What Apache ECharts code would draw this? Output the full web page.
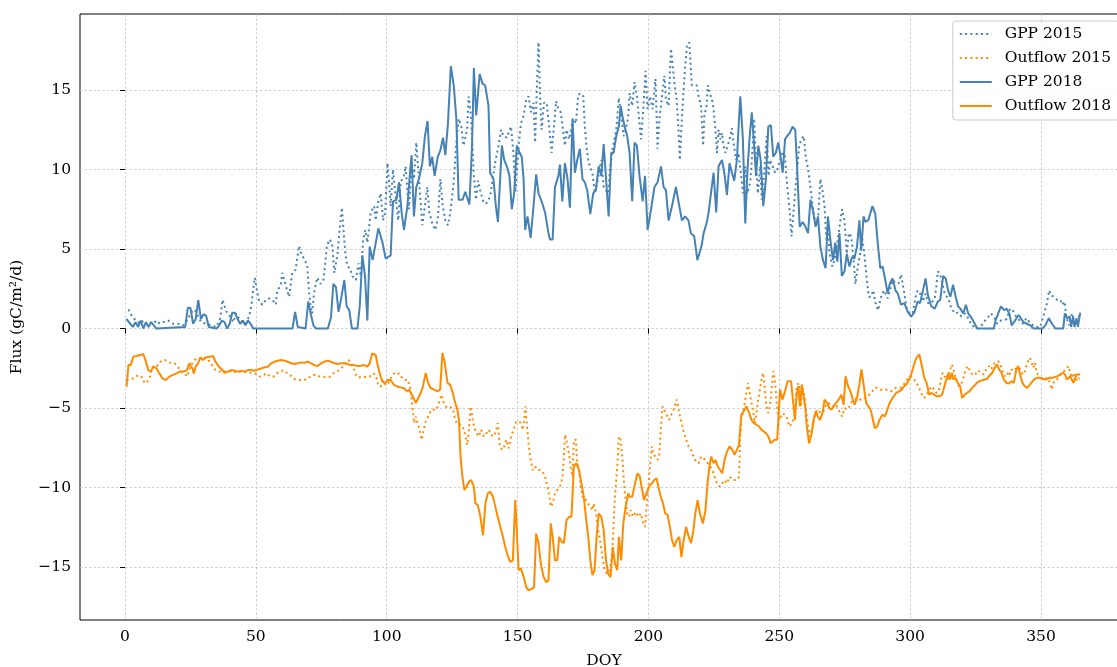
<!DOCTYPE html>
<html>
<head>
<meta charset="utf-8">
<script src="https://cdn.jsdelivr.net/npm/echarts@6.0.0/dist/echarts.min.js"></script>
<style>
html,body{margin:0;padding:0;background:#fff;}
#chart{width:1117px;height:667px;}
</style>
</head>
<body>
<div id="chart"></div>
<script>
// ---------- DATA (DOY, flux) ----------
const seriesNames = ['GPP 2015', 'Outflow 2015', 'GPP 2018', 'Outflow 2018'];
const xTicks = [0, 50, 100, 150, 200, 250, 300, 350];
const yTicks = [-15, -10, -5, 0, 5, 10, 15];

const gpp2015 = [[1.3,1.2],[2.9,0.7],[4.4,0.5],[5.7,0.3],[7,0.5],[8.2,0.3],[9.5,0.4],[10.8,0.3],[12,0.5],[13.3,0.3],[14.6,0.4],[16.5,0.5],[18.4,0.3],[20.3,0.3],[22.2,0.2],[23.7,0.5],[25.3,1.0],[26.6,1.2],[27.8,0.8],[29.1,0.4],[31,0.3],[32.9,0.2],[34.8,0.1],[36.3,0.6],[37.3,1.8],[38.4,1.2],[39.2,0.95],[40.5,0.7],[41.4,0.4],[42.4,0.95],[43.7,0.6],[44.9,0.4],[46.2,0.3],[47.5,0.8],[48.4,1.6],[49.1,2.6],[49.6,3.2],[50.4,2.4],[51.3,1.7],[52.5,1.5],[53.8,1.8],[55.1,1.9],[56.3,1.8],[57.6,1.5],[58.2,2.4],[59.5,2.7],[60.1,3.5],[60.8,3.1],[61.6,2.6],[62.7,2.0],[63.9,3.5],[65.2,3.7],[65.8,4.4],[66.5,5.2],[67.3,4.7],[68.4,4.4],[69.6,4.0],[70.3,2.4],[70.9,1.4],[71.5,0.95],[72.2,2.2],[73.4,3.2],[74.7,2.8],[75.9,3.1],[77.1,5.15],[78.1,5.6],[79.1,5.4],[80,3.5],[81.2,4.7],[82.1,6.4],[82.9,7.6],[83.4,6.4],[84.2,4.7],[85,3.9],[85.9,3.8],[86.9,3.3],[88.2,3.05],[89.2,4.1],[90.1,3.3],[91,5.6],[91.8,6.2],[92.6,5.4],[93.9,7.3],[95.2,7.7],[95.8,6.8],[96.8,8.0],[97.7,8.5],[98.6,6.8],[99.4,7.3],[100.3,10.4],[100.9,9.2],[101.5,7.7],[102.4,10.0],[103.4,8.3],[104.4,6.8],[105.3,9.2],[106.6,9.6],[107.2,10.2],[107.9,8.7],[108.5,7.5],[109.5,10.2],[110.4,9.4],[111.3,11.7],[112.3,9.4],[113.6,6.5],[114.6,7.7],[115.5,8.9],[116.3,7.3],[117.4,6.6],[118.6,6.2],[119.6,7.05],[120.5,9.4],[121.4,7.7],[122.4,6.8],[123.4,6.5],[124.3,7.3],[125.6,9.2],[126.5,11.5],[127.5,13.2],[128.5,12.7],[129.4,11.5],[130.7,12.5],[131.3,14.6],[132.3,13.2],[133.2,9.8],[134.1,8.1],[134.9,9.3],[135.7,8.7],[137,7.9],[138.3,7.9],[139.5,8.3],[141.4,10.4],[142.7,11.5],[143.7,12.5],[144.6,12.1],[145.9,12.0],[146.5,12.3],[147.5,12.7],[148.4,11.05],[149.2,8.6],[150.4,11.5],[151.3,12.9],[152.3,13.4],[153.3,14.4],[154.2,14.6],[155.1,13.6],[156.1,14.2],[156.7,11.7],[157.3,14.8],[158,18.0],[158.6,14.6],[159.2,12.5],[160.1,14.2],[161.1,14.2],[162.2,12.5],[163,11.05],[163.9,12.7],[164.7,14.3],[165.6,13.8],[166.5,13.6],[167.2,12.7],[168.1,11.5],[168.7,12.5],[169.7,11.9],[170.6,12.7],[171.3,13.2],[172.3,12.9],[173.2,14.7],[174.1,14.8],[175.1,14.6],[175.7,12.7],[176.3,11.5],[177,10.6],[177.6,10.2],[178.6,9.8],[179.5,8.5],[180.1,8.9],[181.1,9.8],[182,10.6],[182.9,8.9],[183.7,8.7],[184.6,8.5],[185.4,10.2],[186.5,11.5],[187.7,12.5],[188.7,14.5],[189.6,13.4],[190.5,12.1],[191.3,12.5],[192.2,13.2],[192.8,14.8],[193.8,14.0],[194.7,15.5],[195.6,14.6],[196.3,13.4],[197.2,11.9],[198.1,14.0],[198.9,16.2],[199.7,13.8],[200.6,14.6],[201.6,13.8],[202.7,15.7],[203.5,11.3],[204.2,13.2],[205.2,14.6],[206.1,15.9],[206.7,14.4],[207.7,14.0],[208.6,17.6],[209.2,16.7],[209.9,15.5],[210.8,14.4],[211.5,12.5],[212,10.6],[212.8,13.2],[213.7,15.7],[214.7,17.8],[215.6,18.0],[216.6,15.3],[217.3,15.3],[218.4,15.3],[219.2,14.6],[220.1,14.0],[220.9,11.5],[221.4,13.4],[222.2,14.0],[222.7,15.3],[223.4,14.8],[224.3,14.4],[224.9,13.8],[225.6,12.5],[226.2,11.05],[226.8,12.5],[227.5,11.9],[228.1,12.3],[228.7,11.5],[229.4,11.05],[230.3,11.5],[231,11.9],[231.9,12.6],[232.5,11.7],[233.5,10.6],[234.4,11.05],[235.3,9.8],[236.1,8.5],[237,10.2],[237.8,8.5],[238.9,9.2],[239.5,10.6],[240.4,13.2],[241.1,10.6],[241.8,8.5],[242.7,10.2],[243.3,8.1],[244.2,9.8],[245.2,12.1],[245.9,9.6],[246.5,10.6],[247.5,10.2],[248.4,9.8],[249.2,10.0],[250.3,10.6],[251.3,11.05],[252.2,10.8],[252.8,9.4],[253.8,7.7],[254.7,5.8],[255.6,7.7],[256.6,9.6],[257.6,11.5],[258.5,11.9],[259.4,12.1],[260.1,10.8],[261,10.0],[261.9,8.9],[262.9,7.5],[263.9,6.4],[264.8,6.8],[265.7,9.4],[266.5,8.7],[267.3,7.7],[268,5.6],[268.6,6.4],[269.2,4.7],[270.3,3.9],[271.1,4.3],[272,5.15],[273,6.4],[274,7.5],[274.9,6.8],[275.8,4.7],[276.6,6.0],[277.5,5.8],[278.4,4.3],[279.1,2.8],[280,3.9],[280.9,4.7],[281.6,5.8],[282.5,4.7],[283.2,3.5],[284.2,2.0],[285.1,2.0],[285.9,2.4],[286.9,1.5],[287.8,1.15],[288.7,1.9],[290,2.4],[291.4,1.9],[292.3,2.4],[293.3,3.05],[294.6,2.85],[295.6,2.85],[296.5,3.4],[297.2,2.75],[297.8,2.2],[298.7,1.25],[299.7,0.95],[301,1.0],[302.1,2.0],[302.9,2.4],[303.8,2.2],[304.9,1.7],[305.9,2.2],[306.8,1.6],[308.1,1.6],[309.4,1.9],[310,2.65],[310.6,3.6],[311.5,3.4],[312.3,2.85],[313.2,2.2],[314.5,1.9],[315.8,1.25],[317.1,0.95],[318.3,1.0],[319.6,0.75],[320.9,0.95],[322.2,0.65],[323.5,0.2],[324.7,0.1],[326,0],[327.3,0.2],[328.6,0.5],[329.9,0.75],[330.8,0.95],[332.1,0.75],[333.3,0.3],[334.6,0.5],[335.6,0.5],[336.9,0.6],[338.2,1.25],[339.2,1.15],[340.5,0.75],[341.8,0.5],[343.1,0.3],[344.4,0.65],[345.6,0.4],[346.9,0.2],[348.2,0.1],[349.7,0.1],[351.2,0.95],[352.3,1.6],[353.1,2.4],[353.8,2.1],[354.9,2.0],[356.2,1.8],[357.4,1.8],[358.1,1.5],[359,1.7],[359.7,0.75],[360.6,0.2],[361.9,0.95],[362.8,0.3],[363.8,0.5],[364.8,0.85]];

const outflow2015 = [[0.6,-3.24],[1.3,-3.13],[3.4,-3.13],[5.1,-2.92],[6.3,-3.03],[7,-3.13],[7.6,-3.45],[8.5,-3.34],[9.5,-3.03],[10.5,-2.4],[11.8,-2.44],[13.1,-2.19],[14,-2.02],[15.2,-1.98],[16.5,-2.09],[17.8,-2.19],[19,-2.19],[20.3,-2.44],[21.6,-2.71],[22.8,-2.82],[23.7,-3.03],[24.7,-2.51],[26,-2.09],[27.3,-1.88],[27.9,-1.77],[28.8,-1.88],[29.8,-1.77],[31.1,-1.88],[32.4,-2.09],[33.6,-2.4],[34.6,-2.61],[35.9,-2.71],[37.4,-2.71],[38.7,-2.71],[40,-2.71],[41.2,-2.65],[42.5,-2.78],[44,-2.71],[45.3,-2.71],[46.6,-2.78],[47.8,-2.78],[49.1,-2.82],[50.4,-2.86],[51.6,-3.03],[52.9,-2.92],[54.2,-2.82],[55.5,-3.03],[56.7,-3.03],[58,-2.82],[59.3,-2.71],[60.5,-2.61],[61.8,-2.78],[63.1,-2.92],[64.3,-3.13],[65.6,-3.24],[66.9,-3.24],[68.1,-3.24],[69.4,-3.2],[70.7,-3.03],[72,-2.92],[73.2,-2.92],[74.5,-3.03],[75.8,-3.07],[77,-3.03],[78.3,-3.03],[79.6,-2.82],[80.8,-2.71],[82.1,-2.61],[83.4,-2.36],[84.4,-2.09],[85.4,-1.98],[86.3,-2.19],[87.6,-2.61],[88.5,-3.03],[89.7,-3.07],[91,-3.07],[92.3,-3.03],[93.5,-3.03],[94.8,-2.82],[95.8,-2.92],[96.8,-3.55],[97.7,-3.66],[98.6,-3.24],[99.6,-3.55],[100.6,-3.45],[101.5,-3.13],[102.8,-2.82],[103.7,-2.92],[104.7,-2.82],[106,-3.13],[107.2,-3.24],[108,-3.21],[109,-3.74],[109.9,-5.1],[110.5,-5.95],[111.1,-5.53],[112,-6.05],[112.8,-6.58],[113.4,-7.0],[114.1,-6.37],[114.9,-5.84],[115.8,-5.53],[117.1,-5.1],[118.1,-5.1],[119.1,-5.1],[119.6,-4.79],[120.4,-4.47],[120.9,-4.16],[121.6,-4.58],[122.5,-4.9],[123.4,-5.0],[124.4,-4.94],[125.4,-5.1],[125.9,-5.53],[126.7,-5.95],[127.6,-6.05],[128.5,-6.05],[129.5,-6.37],[130.1,-6.79],[130.8,-7.32],[131.4,-6.37],[132,-4.9],[132.7,-5.53],[133.3,-6.16],[134.3,-6.58],[135.2,-6.79],[136.1,-6.37],[137.1,-6.79],[138.1,-6.58],[139,-6.37],[139.9,-6.68],[140.9,-6.79],[141.9,-6.37],[142.4,-5.95],[143.2,-7.42],[144.1,-7.63],[144.9,-7.42],[145.7,-7.0],[146.6,-7.53],[147.5,-6.79],[148.5,-6.37],[149.5,-5.84],[150.4,-5.84],[151.3,-5.95],[152,-6.37],[152.5,-5.74],[153,-4.9],[153.5,-5.95],[154.2,-7.21],[154.8,-8.05],[155.8,-8.9],[156.7,-8.68],[157.6,-8.9],[158.6,-8.9],[159.6,-9.0],[160.5,-9.32],[161.4,-9.95],[162.2,-10.58],[162.7,-11.21],[163.4,-11.0],[164.3,-10.37],[165.2,-10.16],[166.2,-9.95],[167.2,-9.32],[167.7,-8.05],[168.1,-6.68],[168.7,-7.0],[169.6,-7.84],[170.3,-8.68],[171,-9.32],[171.5,-7.0],[172.3,-7.0],[172.8,-8.47],[173.5,-8.9],[174.1,-9.95],[174.8,-10.58],[175.7,-10.58],[176.6,-11.0],[177.6,-11.1],[178.6,-11.42],[179.1,-11.0],[180,-11.63],[180.8,-12.68],[181.7,-13.5],[182.6,-14.58],[183.3,-15.21],[184.2,-15.42],[185.1,-15.21],[185.9,-14.58],[186.4,-13.32],[187.2,-10.58],[187.7,-9.53],[188.2,-8.47],[188.7,-6.79],[189.4,-7.0],[190,-8.05],[190.6,-9.53],[191.3,-10.79],[191.9,-11.63],[192.6,-11.84],[193.2,-11.42],[194.1,-11.84],[195.1,-11.53],[196.2,-11.84],[197.1,-11.63],[197.9,-12.16],[198.7,-12.47],[199.2,-11.42],[200,-9.95],[200.5,-8.9],[201.3,-7.42],[201.8,-7.84],[202.6,-8.05],[203.5,-8.26],[204.1,-8.05],[204.7,-6.37],[205.4,-4.9],[206,-5.1],[206.9,-5.42],[207.9,-5.74],[209,-5.32],[209.9,-5.0],[210.8,-4.47],[211.5,-5.1],[212.4,-5.74],[213.3,-6.37],[214.4,-7.0],[215.4,-7.42],[216.3,-7.63],[217.2,-8.05],[218.2,-8.37],[219.2,-8.47],[220.1,-8.05],[220.8,-7.95],[221.8,-8.26],[222.7,-8.47],[223.6,-8.68],[224.4,-8.9],[225.3,-9.32],[226.2,-9.74],[227.2,-9.95],[228.2,-9.74],[229.1,-9.53],[230,-9.74],[231,-9.32],[232.1,-9.53],[232.9,-9.53],[233.8,-9.53],[234.6,-9.32],[235.1,-7.0],[235.5,-5.53],[236.2,-5.32],[236.8,-4.68],[237.4,-4.05],[238.1,-3.42],[238.7,-4.05],[239.4,-4.68],[240,-5.1],[240.6,-5.95],[241.3,-5.32],[241.9,-4.47],[242.6,-3.84],[243.2,-3.21],[243.8,-2.79],[244.5,-3.84],[245.1,-4.9],[245.8,-5.32],[246.4,-4.9],[247.1,-3.84],[247.7,-2.68],[248.3,-3.21],[249,-4.68],[249.6,-5.53],[250.3,-5.74],[251.3,-5.32],[252.8,-5.53],[253.8,-6.16],[255,-5.95],[255.8,-5.53],[256.7,-3.63],[257.3,-3.42],[257.9,-3.84],[258.3,-4.89],[258.8,-3.63],[259.6,-4.26],[260.5,-5.53],[261.2,-6.37],[261.8,-6.79],[262.4,-6.37],[263.1,-5.95],[263.7,-5.42],[264.4,-5.1],[265,-5.1],[266,-5.32],[266.9,-5.21],[267.8,-4.79],[268.8,-4.68],[269.8,-4.89],[270.8,-4.89],[271.7,-4.79],[272.4,-5.0],[273.3,-5.32],[274,-5.53],[275,-5.0],[275.9,-5.1],[276.8,-4.89],[277.8,-4.58],[278.8,-4.47],[279.7,-4.37],[280.6,-4.47],[281.7,-4.47],[282.7,-4.37],[283.6,-4.22],[284.5,-4.16],[285.5,-3.95],[286.5,-3.73],[287.4,-3.73],[288.7,-3.84],[289.6,-3.88],[290.6,-3.84],[291.7,-3.88],[292.6,-3.95],[293.5,-3.88],[294.5,-3.73],[295.5,-3.73],[296.4,-3.73],[297.3,-3.63],[298.3,-3.31],[299.4,-3.1],[300.3,-3.0],[301.2,-3.1],[301.9,-3.21],[302.4,-3.42],[303.2,-3.63],[303.7,-3.84],[304.5,-4.16],[305.4,-4.37],[306.3,-4.16],[307.3,-3.84],[308.3,-3.63],[309.2,-3.84],[310.1,-4.05],[310.9,-3.95],[311.8,-3.21],[312.4,-2.78],[313.5,-3.1],[314.4,-3.21],[315.3,-2.57],[316,-2.26],[316.9,-2.78],[317.8,-3.31],[318.6,-3.63],[319.5,-3.52],[320.4,-3.1],[321.2,-2.57],[322.1,-2.36],[322.9,-2.68],[323.7,-2.89],[324.6,-2.78],[325.5,-2.89],[326.3,-2.68],[327.2,-2.78],[328.1,-2.89],[329.1,-2.57],[330.1,-2.36],[331,-2.57],[331.7,-2.26],[332.7,-2.15],[333.6,-2.05],[334.5,-2.26],[335.3,-2.68],[336.2,-3.0],[337.1,-2.78],[337.8,-3.0],[338.7,-2.57],[339.6,-2.68],[340.6,-2.47],[341.7,-2.47],[342.6,-2.78],[343.5,-2.89],[344.2,-2.47],[345.1,-2.05],[345.8,-1.84],[346.4,-2.15],[347.1,-2.47],[347.7,-2.15],[348.3,-2.78],[349,-2.68],[349.9,-3.1],[350.6,-3.21],[351.5,-3.16],[352.4,-3.1],[353.5,-3.42],[354.1,-3.84],[355,-3.31],[356,-3.21],[357.1,-3.0],[358,-2.78],[358.8,-2.68],[359.6,-2.57],[360.5,-2.36],[361.2,-2.78],[361.8,-3.1],[362.7,-2.78],[363.7,-3.31],[364.7,-3.1]];

const gpp2018 = [[0.5,0.6],[1,0.5],[2,0.3],[3,0.1],[4,0.4],[5,0.1],[6,0.5],[7,0],[8,0.4],[9,0.1],[10,0.4],[11,0.2],[12,0],[23,0.1],[24,1.3],[25,1.3],[26,0.3],[27,0.6],[28,1.8],[29,0.6],[30,0.9],[31,0.8],[32,0.1],[35,0],[36,0.2],[37,0.5],[38,0.4],[39,0],[40,0.3],[41,1.0],[42,1.0],[43,0.6],[44,0.3],[45,0.5],[46,0.2],[47,0.5],[48,0.3],[49,0],[64,0],[65,1.05],[66,0.1],[69,0],[70,1.7],[71,0.9],[72,0.2],[73,0],[77.5,0],[78.7,0.7],[79.6,2.8],[80.6,2.6],[81.6,1.05],[82.5,1.8],[83.8,3.05],[84.7,1.4],[85.7,1.15],[86.7,0],[88.8,0],[89.7,1.4],[90.7,4.6],[91.7,3.3],[92.6,0.5],[93.5,5.15],[94.6,4.3],[95.6,5.2],[96.8,6.3],[98.4,5.4],[99.6,4.4],[101.5,4.6],[102.4,8.0],[103.7,8.1],[104.7,9.2],[105.7,7.3],[106.6,6.2],[107.9,7.7],[108.7,9.4],[109.5,10.9],[110.4,7.05],[111.3,8.9],[112.3,9.4],[113.6,10.4],[114.6,12.1],[115.6,13.05],[116.5,10.2],[117.4,10.8],[118.3,9.6],[119.5,10.8],[120.5,11.2],[121.5,12.0],[122.4,10.9],[123.4,12.9],[124.5,16.5],[125.6,15.3],[126.6,13.2],[127.5,8.1],[129,8.1],[130,8.6],[131.6,7.8],[132.6,11.5],[133.3,16.4],[134.2,13.4],[135.5,16.0],[136.6,15.4],[137.6,15.3],[138.9,14.0],[139.5,9.8],[140.8,9.4],[141.7,7.7],[142.5,6.7],[144,11.5],[144.9,10.6],[145.9,10.2],[146.9,9.6],[147.8,7.5],[148.7,8.5],[149.7,11.5],[150.8,11.05],[151.6,10.8],[152.3,9.4],[152.9,6.2],[153.8,7.05],[155,5.7],[156,7.5],[157.1,9.7],[158,8.5],[159.2,8.0],[160.5,7.3],[161.8,6.0],[162.4,5.6],[163.4,5.6],[164.3,8.9],[165.6,9.6],[166.2,10.3],[167.1,8.0],[168.1,10.4],[169.1,9.4],[170,7.6],[171,13.2],[171.9,9.8],[172.8,10.6],[173.8,11.3],[174.8,9.4],[175.7,9.2],[176.6,8.7],[177.8,7.2],[178.9,8.5],[179.9,8.7],[181,10.2],[182,9.6],[182.9,11.6],[183.9,9.2],[184.8,7.05],[185.8,11.05],[186.7,11.05],[187.7,12.1],[188.7,12.7],[189.4,14.0],[190,13.4],[190.9,12.7],[191.9,12.1],[192.8,11.05],[193.8,8.0],[194.7,11.7],[195.6,11.5],[196.6,9.6],[197.8,8.0],[198.7,9.6],[199.7,6.2],[201,7.5],[202.3,8.9],[203.5,9.2],[204.8,10.2],[205.8,8.9],[206.7,8.7],[207.7,6.8],[209,7.7],[210.5,8.9],[211.8,7.7],[212.8,6.8],[214,7.05],[215.3,6.8],[216.2,6.0],[217.5,5.8],[218.7,4.3],[220.3,5.2],[221.1,6.0],[222.2,6.6],[223,7.3],[223.9,8.5],[224.9,9.8],[225.9,7.3],[226.8,10.2],[228.1,10.6],[229,9.8],[230,8.4],[231,10.4],[231.9,9.8],[232.8,9.3],[233.8,10.6],[234.4,12.5],[235.1,14.6],[236.1,11.9],[237,6.6],[237.8,9.8],[238.6,11.9],[239.5,13.6],[240.4,11.5],[241.1,9.6],[242,11.5],[242.9,10.6],[243.9,7.7],[244.9,9.4],[245.8,12.7],[246.8,12.8],[247.7,10.8],[248.7,11.05],[249.6,11.7],[250.5,10.8],[251.3,9.8],[252.2,11.9],[253,12.1],[254,12.3],[255.1,12.7],[256.1,12.5],[256.8,10.2],[257.8,6.4],[258.9,6.7],[259.7,6.5],[261,6.0],[261.9,8.1],[262.9,7.4],[263.9,6.4],[264.8,7.05],[265.7,5.15],[266.7,4.3],[267.7,3.8],[268.6,7.05],[269.5,5.6],[270.5,4.3],[271.4,5.4],[272.2,4.2],[273,6.0],[273.9,3.3],[274.9,3.6],[275.8,4.7],[276.8,3.9],[277.8,4.5],[278.7,4.4],[279.7,5.15],[280.6,6.8],[281.3,4.9],[282.2,7.05],[282.9,6.7],[284,6.8],[285.6,7.7],[286.7,7.2],[287.6,5.4],[288.6,3.8],[289.5,3.9],[290.5,3.05],[291.4,2.2],[292.3,2.85],[293.3,3.15],[294.4,2.4],[295.3,2.2],[296.5,1.5],[297.8,1.6],[299.1,1.05],[300.4,0.75],[301.7,1.05],[302.9,1.7],[303.8,1.6],[304.9,2.4],[305.9,3.15],[306.8,2.1],[308.1,1.4],[309.4,1.25],[310.6,1.7],[311.5,1.8],[312.6,3.3],[313.6,3.15],[314.5,2.4],[315.4,2.0],[316.4,2.75],[317.4,2.0],[318.3,1.4],[319.2,1.25],[320.3,0.95],[321.3,1.5],[322.2,0.95],[323.5,0.65],[324.7,0.3],[325.6,0],[332,0],[332.6,0.5],[334.7,1.4],[335.9,1.15],[336.9,1.25],[337.9,0.95],[338.8,0.2],[340.1,0.5],[341.4,0.85],[342.3,0.65],[343.3,0.4],[344.6,0.3],[345.9,0.2],[347.2,0],[350.5,0],[351.7,0.2],[353,0.65],[354.2,0.3],[355.5,0],[358.5,0],[359.1,0.95],[360,0.65],[361,0.75],[361.5,0.1],[362.3,0.75],[362.8,0.1],[363.6,0.65],[364.1,0.1],[365,1.0]];

const outflow2018 = [[0.6,-3.66],[1.3,-2.3],[2.2,-2.3],[3.2,-1.77],[4.4,-1.73],[5.7,-1.67],[7,-1.6],[8,-2.09],[8.9,-2.61],[9.8,-2.71],[10.8,-2.4],[12.1,-2.51],[13.1,-2.82],[14.3,-3.13],[15.6,-3.24],[16.9,-3.03],[18.4,-2.92],[19.7,-2.82],[20.9,-2.71],[22.5,-2.71],[23.7,-2.61],[24.5,-2.19],[25,-2.19],[25.8,-2.51],[26.3,-2.82],[27,-2.4],[27.9,-2.19],[28.8,-1.81],[29.8,-1.98],[31.1,-1.81],[32.4,-1.77],[33.6,-1.73],[34.6,-2.09],[35.9,-2.4],[37.2,-2.61],[38.1,-2.78],[39.3,-2.71],[40.6,-2.61],[41.9,-2.65],[43.1,-2.71],[44.4,-2.65],[45.7,-2.71],[47,-2.61],[48.2,-2.61],[49.5,-2.65],[50.8,-2.57],[52,-2.51],[53.3,-2.44],[54.6,-2.4],[55.8,-2.19],[57.1,-2.09],[58.4,-2.02],[59.6,-1.98],[60.9,-2.02],[62.2,-2.09],[63.5,-2.19],[64.7,-2.23],[66,-2.19],[67.3,-2.13],[68.5,-2.15],[69.8,-2.09],[71.1,-2.19],[72.3,-2.3],[73.6,-2.36],[74.9,-2.19],[76.1,-2.09],[77.4,-2.02],[78.7,-2.09],[79.9,-2.19],[81.2,-2.23],[82.5,-2.19],[83.8,-2.19],[85,-2.23],[86.3,-2.3],[87.6,-2.3],[88.8,-2.36],[90.1,-2.34],[91.4,-2.3],[92.6,-2.4],[93.5,-2.19],[94.5,-1.56],[95.2,-1.46],[95.8,-1.67],[96.4,-2.19],[97.3,-2.82],[98.4,-3.34],[99.4,-3.45],[100.3,-3.24],[101.5,-3.24],[102.8,-3.55],[104.1,-3.66],[105.3,-3.7],[106.6,-3.76],[107.9,-3.97],[108.6,-3.84],[109.9,-4.26],[111.1,-4.68],[112.4,-4.26],[113.7,-3.74],[114.9,-2.79],[115.8,-3.42],[116.8,-3.74],[118.1,-3.84],[119.4,-3.95],[120.4,-3.84],[121.3,-1.53],[122.2,-2.16],[123.2,-3.42],[124.2,-3.53],[125.1,-3.95],[126,-4.58],[127,-5.1],[127.6,-5.74],[128.2,-8.05],[128.9,-9.3],[129.7,-10.16],[130.5,-9.95],[131.4,-9.63],[132.3,-9.53],[133.3,-9.95],[133.9,-11.0],[134.8,-11.1],[135.8,-11.84],[136.8,-13.0],[137.7,-11.0],[138.6,-10.37],[139.6,-10.26],[140.6,-10.58],[141.5,-11.2],[142.4,-11.84],[143.4,-12.47],[144.4,-13.1],[145.3,-13.74],[146.2,-14.26],[147.2,-14.68],[148.2,-14.58],[149.1,-10.79],[149.7,-12.68],[150.4,-15.2],[151.3,-15.1],[152.3,-15.6],[153.3,-16.26],[154.2,-16.47],[155.4,-16.37],[156.3,-16.26],[157.1,-12.9],[158,-13.5],[158.9,-14.8],[159.9,-15.6],[160.9,-15.95],[161.8,-15.84],[162.7,-12.26],[163.4,-13.1],[164.3,-14.58],[165.2,-14.58],[165.9,-13.1],[166.8,-13.4],[167.7,-13.5],[168.7,-12.05],[169.7,-11.84],[170.6,-11.84],[171.5,-8.68],[172.5,-8.47],[173.5,-8.9],[174.4,-9.74],[175.3,-10.58],[176.1,-11.84],[177,-13.1],[177.8,-14.58],[178.6,-15.5],[179.4,-15.2],[180.2,-13.1],[181,-11.63],[182,-11.84],[182.9,-12.68],[183.8,-14.58],[184.6,-15.42],[185.5,-15.63],[186.4,-13.74],[187.2,-14.79],[188.1,-15.2],[188.7,-13.1],[189.6,-14.58],[190.4,-12.26],[191.3,-11.2],[192.3,-10.37],[192.8,-10.58],[193.8,-10.58],[194.9,-9.74],[195.8,-9.1],[196.7,-9.3],[197.4,-9.95],[198.3,-10.79],[199.2,-10.37],[200.3,-9.95],[201.3,-9.74],[202.2,-9.53],[203.1,-9.42],[203.8,-9.95],[204.7,-10.58],[205.6,-11.0],[206.4,-11.63],[207.3,-11.7],[208.2,-12.47],[209,-13.3],[209.9,-13.74],[210.8,-13.3],[211.8,-13.1],[212.6,-14.37],[213.3,-13.5],[214.4,-12.47],[215.4,-13.1],[216.3,-13.5],[217.2,-12.68],[217.9,-11.63],[218.8,-10.79],[219.7,-11.63],[220.8,-12.26],[221.8,-11.42],[222.7,-9.53],[223.3,-8.68],[224,-8.05],[224.9,-8.47],[225.6,-8.26],[226.5,-8.68],[227.4,-8.9],[228.2,-9.1],[229.1,-8.26],[230,-7.74],[231,-7.42],[232.1,-7.63],[232.9,-7.95],[233.8,-7.63],[234.6,-7.32],[235.5,-5.42],[236.4,-5.21],[237.4,-4.9],[238.5,-5.32],[239.4,-5.74],[240.3,-5.95],[241.3,-6.05],[242.3,-6.16],[243.2,-6.37],[244.1,-6.47],[244.9,-6.58],[245.8,-6.79],[246.7,-7.21],[247.4,-7.1],[248.3,-7.0],[249.2,-7.0],[249.7,-7.0],[250.3,-3.84],[251.2,-4.47],[252.2,-3.95],[253.2,-3.31],[254.5,-3.31],[255.4,-4.79],[256,-5.74],[256.7,-4.05],[257.3,-3.63],[257.9,-4.89],[258.6,-3.52],[259.2,-3.63],[259.9,-4.89],[260.5,-6.16],[261.4,-7.22],[262.4,-6.58],[263.1,-5.74],[264,-5.21],[264.7,-5.53],[265.6,-5.74],[266.5,-5.32],[267.3,-4.47],[268.2,-4.68],[269.1,-5.0],[269.9,-5.11],[270.8,-4.89],[271.7,-4.68],[272.7,-4.47],[273.7,-4.16],[274.6,-4.79],[275.3,-3.0],[276.3,-3.63],[277.2,-3.95],[278.1,-4.47],[278.8,-4.79],[279.7,-4.37],[280.6,-3.52],[281.4,-2.57],[282.3,-3.63],[283.2,-4.68],[284,-4.89],[284.9,-5.1],[285.8,-5.74],[286.5,-6.27],[287.4,-6.16],[288.3,-5.74],[289.4,-5.42],[290.4,-5.53],[291.3,-5.1],[292.2,-4.68],[292.9,-4.47],[293.8,-4.26],[294.7,-4.05],[295.8,-3.95],[296.8,-3.84],[297.7,-3.63],[298.6,-3.52],[299.6,-3.21],[300.6,-2.78],[301.5,-2.26],[302.4,-1.84],[303.5,-1.62],[304.5,-2.36],[305.4,-3.1],[306.3,-3.42],[307.3,-4.16],[308.3,-4.05],[309.2,-4.16],[310.1,-4.26],[311.2,-4.26],[312.2,-4.16],[313.1,-3.63],[314,-3.1],[314.7,-2.78],[315.3,-3.21],[316,-2.78],[316.5,-3.21],[317.3,-3.1],[318.2,-3.42],[319.1,-3.63],[319.9,-4.37],[320.8,-4.16],[321.7,-4.05],[322.7,-3.95],[323.7,-3.73],[324.6,-3.59],[325.5,-3.42],[326.5,-3.31],[327.6,-3.25],[328.5,-3.21],[329.4,-3.16],[330.4,-2.95],[331.4,-2.78],[332.3,-2.47],[333.2,-2.26],[334,-2.57],[334.9,-2.78],[335.8,-3.21],[336.8,-3.42],[337.8,-3.46],[338.7,-3.31],[339.6,-3.42],[340.6,-2.57],[341.3,-2.36],[342.2,-3.0],[342.9,-3.42],[343.8,-3.63],[344.7,-3.73],[345.8,-3.52],[346.8,-3.31],[347.7,-3.16],[348.6,-3.1],[349.6,-3.1],[350.6,-3.16],[351.5,-3.21],[352.4,-3.16],[353.5,-3.1],[354.5,-3.1],[355.4,-3.04],[356.3,-3.0],[357.3,-2.89],[358.3,-2.78],[359.2,-2.89],[359.9,-3.21],[360.5,-3.31],[361.2,-3.0],[361.8,-3.21],[362.4,-3.42],[363.1,-3.1],[363.7,-2.89],[364.4,-3.0],[365,-2.89]];

// ---------- CHART ----------
const BLUE = '#4682b4';
const ORANGE = '#ff8c00';
const FONT = 'DejaVu Serif';
const FS = 15.5;
const minus = v => String(v).replace('-', '\u2212');

const chart = echarts.init(document.getElementById('chart'), null, {renderer: 'canvas'});

const gridLine = {show: true, lineStyle: {color: '#c4c4c4', width: 0.8, type: [2.5, 2]}};

const option = {
  animation: false,
  backgroundColor: '#ffffff',
  textStyle: {fontFamily: FONT},
  grid: {
    left: 80, top: 14, bottom: 47, right: -11,
    show: true, borderColor: '#000', borderWidth: 1, backgroundColor: 'transparent',
    containLabel: false, outerBoundsMode: 'none'
  },
  legend: {
    orient: 'vertical', right: -2, top: 21,
    data: seriesNames,
    itemWidth: 32, itemHeight: 14, itemGap: 8,
    padding: [5, 8, 6, 6],
    backgroundColor: 'rgba(255,255,255,0.85)',
    borderColor: '#cccccc', borderWidth: 1, borderRadius: 3,
    itemStyle: {opacity: 0},
    textStyle: {fontFamily: FONT, fontSize: FS, lineHeight: 16, color: '#000', padding: [0, 0, 0, 8]}
  },
  xAxis: {
    type: 'value', min: -17.2, max: 383.25,
    name: 'DOY', nameLocation: 'middle', nameGap: 33,
    nameTextStyle: {fontFamily: FONT, fontSize: FS, color: '#000'},
    axisLine: {show: false},
    axisTick: {show: true, inside: false, length: 5, customValues: xTicks, lineStyle: {color: '#000', width: 1}},
    axisLabel: {show: true, margin: 9, customValues: xTicks, fontFamily: FONT, fontSize: FS, color: '#000', formatter: v => minus(v)},
    splitLine: gridLine,
    minorSplitLine: {show: false}
  },
  yAxis: {
    type: 'value', min: -18.33, max: 19.78,
    name: 'Flux (gC/m\u00b2/d)', nameLocation: 'middle', nameGap: 55, nameRotate: 90,
    nameTextStyle: {fontFamily: FONT, fontSize: FS, color: '#000'},
    axisLine: {show: false},
    axisTick: {show: true, inside: false, length: 5, customValues: yTicks, lineStyle: {color: '#000', width: 1}},
    axisLabel: {show: true, margin: 9, customValues: yTicks, fontFamily: FONT, fontSize: FS, color: '#000', formatter: v => minus(v)},
    splitLine: gridLine
  },
  series: [
    {name: seriesNames[0], type: 'line', data: gpp2015, symbol: 'none', showSymbol: false, z: 2,
      lineStyle: {color: BLUE, width: 2, type: [2, 3.3]}, itemStyle: {color: BLUE}},
    {name: seriesNames[1], type: 'line', data: outflow2015, symbol: 'none', showSymbol: false, z: 3,
      lineStyle: {color: ORANGE, width: 2, type: [2, 3.3]}, itemStyle: {color: ORANGE}},
    {name: seriesNames[2], type: 'line', data: gpp2018, symbol: 'none', showSymbol: false, z: 4,
      lineStyle: {color: BLUE, width: 2, type: 'solid'}, itemStyle: {color: BLUE}},
    {name: seriesNames[3], type: 'line', data: outflow2018, symbol: 'none', showSymbol: false, z: 5,
      lineStyle: {color: ORANGE, width: 2, type: 'solid'}, itemStyle: {color: ORANGE}}
  ]
};
chart.setOption(option);
</script>
</body>
</html>
